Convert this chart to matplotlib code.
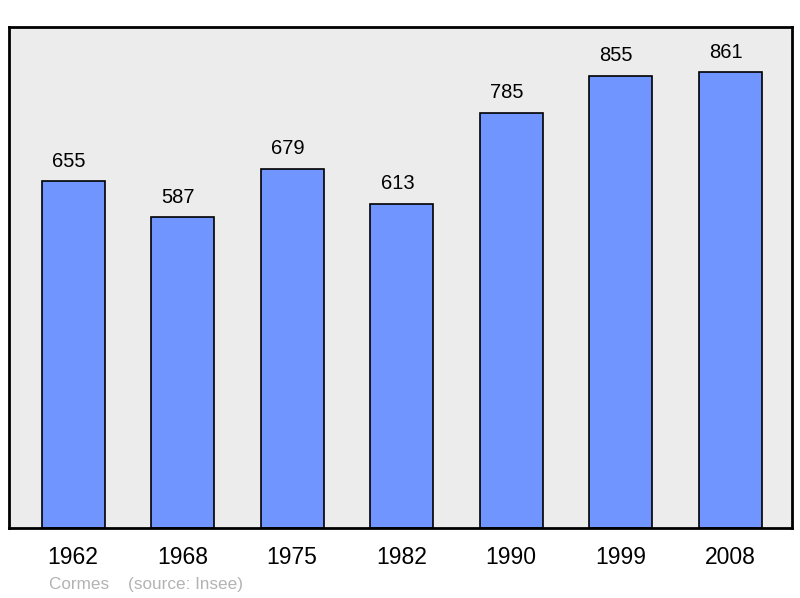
import matplotlib.pyplot as plt

plt.rcParams['font.family'] = ['Liberation Sans', 'DejaVu Sans']

years = ["1962", "1968", "1975", "1982", "1990", "1999", "2008"]
population = [655, 587, 679, 613, 785, 855, 861]

fig = plt.figure(figsize=(8.0, 5.98), dpi=100)
ax = fig.add_axes([9 / 800, 1 - 528 / 598, 783 / 800, 501 / 598])
ax.set_facecolor('#ececec')

x = range(len(years))
ax.bar(x, population, width=0.575, color='#7095ff', edgecolor='black', linewidth=1.2, zorder=2)
for xi, v in zip(x, population):
    ax.annotate(str(v), (xi, v), xytext=(-3, 7.5), textcoords='offset points',
                ha='center', va='bottom', fontsize=14.5)

ax.set_xlim(-0.585, 6.566)
ax.set_ylim(0, 947)
ax.set_xticks(list(x))
ax.set_xticklabels(years, fontsize=16.5)
ax.tick_params(axis='x', length=0, pad=13)
ax.set_yticks([])
for s in ax.spines.values():
    s.set_linewidth(2)

fig.text(49 / 800, 1 - 584 / 598, "Cormes    (source: Insee)", color='#b3b3b3',
         fontsize=12.3, va='center', ha='left')

fig.savefig('out.png', dpi=100)
